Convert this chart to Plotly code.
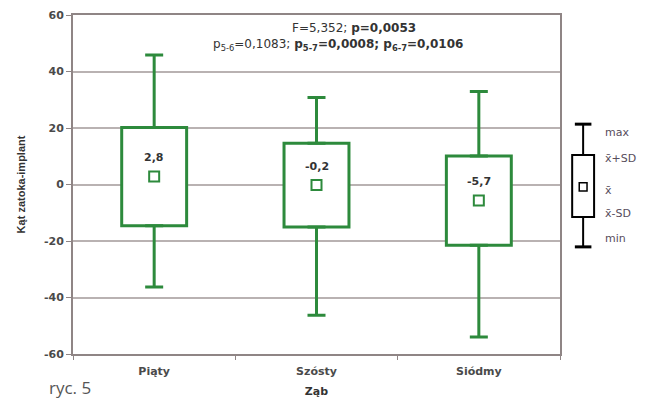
import plotly.graph_objects as go

categories = ["Piąty", "Szósty", "Siódmy"]
means = [2.8, -0.2, -5.7]
sd = [17.4, 14.8, 15.8]
maxs = [45.8, 30.8, 32.9]
mins = [-36.3, -46.3, -54.0]
mean_labels = ["2,8", "-0,2", "-5,7"]
y_ticks = [-60, -40, -20, 0, 20, 40, 60]
y_ticktext = ["<b>-60</b>", "<b>-40</b>", "<b>-20</b>", "<b>0</b>", "<b>20</b>", "<b>40</b>", "<b>60</b>"]
x_ticktext = ["<b>Piąty</b>", "<b>Szósty</b>", "<b>Siódmy</b>"]

GREEN = "#2d8a3c"
GRID = "#b9b2b2"
AXIS = "#8f8585"
TXT = "#333333"
FONT = "DejaVu Sans"

box_lo = [m - s for m, s in zip(means, sd)]
box_hi = [m + s for m, s in zip(means, sd)]

fig = go.Figure()

# boxes (mean ± SD)
fig.add_trace(go.Bar(
    x=categories, y=[h - l for h, l in zip(box_hi, box_lo)], base=box_lo,
    width=0.4, marker=dict(color="white", line=dict(color=GREEN, width=3)),
    hoverinfo="skip", showlegend=False))

# upper whiskers
fig.add_trace(go.Scatter(
    x=categories, y=box_hi, mode="markers", marker=dict(size=1, opacity=0),
    error_y=dict(type="data", symmetric=False,
                 array=[mx - h for mx, h in zip(maxs, box_hi)],
                 arrayminus=[0, 0, 0], color=GREEN, thickness=3, width=9),
    showlegend=False, hoverinfo="skip"))
# lower whiskers
fig.add_trace(go.Scatter(
    x=categories, y=box_lo, mode="markers", marker=dict(size=1, opacity=0),
    error_y=dict(type="data", symmetric=False,
                 array=[0, 0, 0],
                 arrayminus=[l - mn for l, mn in zip(box_lo, mins)],
                 color=GREEN, thickness=3, width=9),
    showlegend=False, hoverinfo="skip"))

# mean markers
fig.add_trace(go.Scatter(
    x=categories, y=means, mode="markers",
    marker=dict(symbol="square-open", size=10, color=GREEN, line=dict(width=2)),
    showlegend=False))

for c, m, t in zip(categories, means, mean_labels):
    fig.add_annotation(x=c, y=m, text=f"<b>{t}</b>", showarrow=False, yshift=19,
                       font=dict(family=FONT, size=11, color=TXT))

# stats annotation
fig.add_annotation(xref="paper", yref="paper", x=0.578, y=0.962, yanchor="middle",
                   text="F=5,352; <b>p=0,0053</b>", showarrow=False,
                   font=dict(family=FONT, size=12, color=TXT))
fig.add_annotation(xref="paper", yref="paper", x=0.545, y=0.912, yanchor="middle",
                   text="p<sub>5-6</sub>=0,1083; <b>p<sub>5-7</sub>=0,0008; p<sub>6-7</sub>=0,0106</b>",
                   showarrow=False,
                   font=dict(family=FONT, size=12, color=TXT))

# key (legend) on the right
kx0, kx1, kxc = 1.025, 1.070, 1.0475
cap = 0.017
k_max, k_hi, k_mean, k_lo, k_min = 0.678, 0.587, 0.493, 0.404, 0.316
shapes = [
    dict(type="rect", xref="paper", yref="paper", x0=kx0, x1=kx1, y0=k_lo, y1=k_hi,
         line=dict(color="black", width=2), fillcolor="white"),
    dict(type="line", xref="paper", yref="paper", x0=kxc, x1=kxc, y0=k_hi, y1=k_max,
         line=dict(color="black", width=2)),
    dict(type="line", xref="paper", yref="paper", x0=kxc, x1=kxc, y0=k_min, y1=k_lo,
         line=dict(color="black", width=2)),
    dict(type="line", xref="paper", yref="paper", x0=kxc - cap, x1=kxc + cap, y0=k_max, y1=k_max,
         line=dict(color="black", width=3)),
    dict(type="line", xref="paper", yref="paper", x0=kxc - cap, x1=kxc + cap, y0=k_min, y1=k_min,
         line=dict(color="black", width=3)),
    dict(type="rect", xref="paper", yref="paper", x0=kxc - 0.008, x1=kxc + 0.008,
         y0=k_mean - 0.012, y1=k_mean + 0.012, line=dict(color="black", width=1.5)),
]
key_labels = [("max", k_max), ("x̄+SD", k_hi - 0.01), ("x̄", k_mean - 0.01),
              ("x̄-SD", k_lo + 0.01), ("min", k_min)]
for t, yy in key_labels:
    fig.add_annotation(xref="paper", yref="paper", x=1.088, y=yy, xanchor="left",
                       text=t, showarrow=False,
                       font=dict(family=FONT, size=11, color="#574d5c"))

fig.add_annotation(xref="paper", yref="paper", x=-0.054, y=-0.1, xanchor="left", yanchor="middle",
                   text="ryc. 5", showarrow=False,
                   font=dict(family="Open Sans", size=17, color="#555555"))

# page body has an 8px margin, so margins are offset to land the plot area correctly
fig.update_layout(
    width=646, height=405,
    margin=dict(l=65, r=94, t=7, b=59),
    paper_bgcolor="white", plot_bgcolor="white",
    shapes=shapes,
    xaxis=dict(type="category", showline=True, linecolor=AXIS, linewidth=2, mirror=True,
               ticks="outside", tickson="boundaries", ticklen=4, tickcolor=AXIS,
               tickvals=categories, ticktext=x_ticktext,
               showgrid=False, automargin=False, ticklabelstandoff=6,
               tickfont=dict(family=FONT, size=11, color="#4a4a4a"),
               title=dict(text="<b>Ząb</b>", standoff=10,
                          font=dict(family=FONT, size=11, color=TXT))),
    yaxis=dict(range=[-60, 60], tickvals=y_ticks, ticktext=y_ticktext,
               showline=True, linecolor=AXIS, linewidth=2,
               mirror=True, ticks="outside", ticklen=5, tickcolor=AXIS, automargin=False,
               showgrid=True, gridcolor=GRID, gridwidth=1.5, zeroline=False,
               tickfont=dict(family=FONT, size=11, color="#4a4a4a"),
               title=dict(text="<b>Kąt zatoka-implant</b>", standoff=16,
                          font=dict(family="Liberation Sans, Arial", size=11, color=TXT))),
)

fig.write_html("out.html")
